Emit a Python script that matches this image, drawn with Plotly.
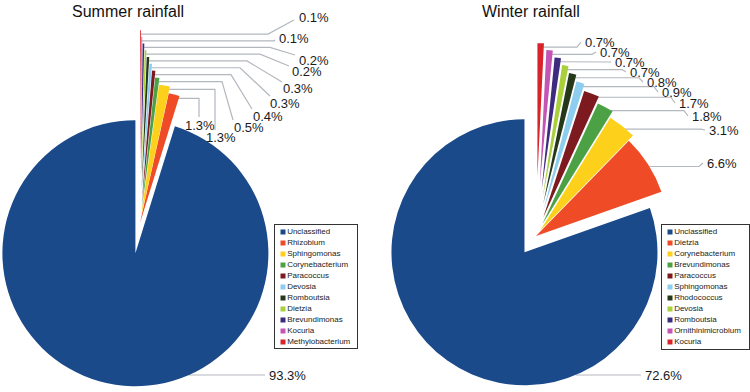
import math
import plotly.graph_objects as go

W, H = 750, 392

# ---------------- data ----------------
summer_labels = ["Unclassified", "Rhizobium", "Sphingomonas", "Corynebacterium", "Paracoccus",
                 "Devosia", "Romboutsia", "Dietzia", "Brevundimonas", "Kocuria", "Methylobacterium"]
summer_values = [93.3, 1.3, 1.3, 0.5, 0.4, 0.3, 0.3, 0.2, 0.2, 0.1, 0.1]

winter_labels = ["Unclassified", "Dietzia", "Corynebacterium", "Brevundimonas", "Paracoccus",
                 "Sphingomonas", "Rhodococcus", "Devosia", "Romboutsia", "Ornithinimicrobium", "Kocuria"]
winter_values = [72.6, 6.6, 3.1, 1.8, 1.7, 0.9, 0.8, 0.7, 0.7, 0.7, 0.7]

# explosion of each slice (fraction of radius)
summer_pull = [0.23, 0.0, 0.05, 0.10, 0.15, 0.20, 0.25, 0.30, 0.35, 0.40, 0.45]
winter_pull = [0.15, 0.0, 0.05, 0.10, 0.15, 0.20, 0.25, 0.30, 0.35, 0.40, 0.45]

# ---------------- styles / layout ----------------
PALETTE = ["#1B4A8A", "#EE4B26", "#FDD11B", "#4CA144", "#7D1A1F", "#8DCDF0",
           "#25381A", "#A9CF3B", "#3E2A7E", "#C455B5", "#D8232A"]
CLEAR = "rgba(0,0,0,0)"
FONT = "Arial, Liberation Sans, Helvetica, sans-serif"
LINE_COLOR = "#B3B8BE"

GEOM = {
    "summer": dict(ox=140, oy=223, r=133, title_x=128),
    "winter": dict(ox=536, oy=236, r=133, title_x=531),
}
# label placement (px): text left x, text middle y, elbow x, line end x, line end y
SUMMER_LABEL_POS = [
    (267, 375, None, 265, 375),
    (183, 125, 199, 199, 117),
    (204, 137, 215, 215, 130),
    (232, 127, 222, 233, 120),
    (251, 116, 231, 252, 109),
    (268, 103, 240, 270, 96),
    (281, 88, 247, 282, 82),
    (290, 71, 260, 289, 66),
    (297, 60, 270, 295, 55),
    (277, 38, 274, 275, 40),
    (297, 17, 268, 294, 20),
]
WINTER_TEXT_POS = [(643, 375), (705, 163), (707, 130), (690, 116), (677, 103), (660, 92),
                   (645, 82), (628, 72), (613, 62), (598, 52), (583, 42)]
WINTER_LABEL_POS = [(x, y, x - 6, x - 2, y) for (x, y) in WINTER_TEXT_POS]

LEGEND_BOX = {"summer": (275, 225, 357, 348), "winter": (662, 225, 749, 349)}

fig = go.Figure()
annotations = []
line_x, line_y = [], []


def add_pie(name, labels, values, pulls, label_pos):
    g = GEOM[name]
    ox, oy, r = g["ox"], g["oy"], g["r"]
    total = sum(values)
    k = 360.0 / total
    rotation = (total - values[0]) * k  # first slice ends at 12 o'clock going round
    cum = 0.0
    centers = []
    n = len(values)
    for i, v in enumerate(values):
        theta = math.radians(360 - (cum + v / 2) * k)  # clockwise from 12 o'clock
        cum += v
        d = pulls[i] * r
        cx = ox + d * math.sin(theta)
        cy = oy - d * math.cos(theta)
        centers.append((cx, cy, theta))
        cols = [CLEAR] * n
        cols[i] = PALETTE[i]
        fig.add_trace(go.Pie(
            values=values, labels=labels, sort=False, direction="counterclockwise",
            rotation=rotation, textinfo="none", hoverinfo="skip", showlegend=False,
            marker=dict(colors=cols, line=dict(width=0)),
            domain=dict(x=[max(0, (cx - r) / W), min(1, (cx + r) / W)],
                        y=[max(0, 1 - (cy + r) / H), min(1, 1 - (cy - r) / H)]),
        ))
    # leader lines + labels
    for i, v in enumerate(values):
        tx, ty, ex, ax, ay = label_pos[i]
        cx, cy, theta = centers[i]
        if i == 0:
            dy = ty - cy
            sx = cx + math.sqrt(max(r * r - dy * dy, 0))
            line_x.extend([sx, ax, None])
            line_y.extend([ty, ay, None])
        else:
            sx = cx + 0.97 * r * math.sin(theta)
            sy = cy - 0.97 * r * math.cos(theta)
            line_x.extend([sx, ex, ax, None])
            line_y.extend([sy, sy, ay, None])
        annotations.append(dict(
            x=tx, y=ty, xref="x", yref="y", text=f"{v:.1f}%", showarrow=False,
            xanchor="left", yanchor="middle",
            font=dict(family=FONT, size=13, color="#1a1a1a")))
    annotations.append(dict(
        x=g["title_x"], y=11, xref="x", yref="y", text=f"{name.capitalize()} rainfall",
        showarrow=False, xanchor="center", yanchor="middle",
        font=dict(family=FONT, size=16, color="#111")))


add_pie("summer", summer_labels, summer_values, summer_pull, SUMMER_LABEL_POS)
add_pie("winter", winter_labels, winter_values, winter_pull, WINTER_LABEL_POS)

fig.add_trace(go.Scatter(x=line_x, y=line_y, mode="lines", xaxis="x", yaxis="y",
                         line=dict(color=LINE_COLOR, width=1.2), hoverinfo="skip",
                         showlegend=False))

# manual legends
axis_common = dict(showticklabels=False, showgrid=False, zeroline=False, ticks="",
                   showline=True, mirror=True, linecolor="#333", linewidth=1, fixedrange=True)
for j, (name, labels) in enumerate([("summer", summer_labels), ("winter", winter_labels)]):
    x0, y0, x1, y1 = LEGEND_BOX[name]
    xa, ya = f"x{j + 2}", f"y{j + 2}"
    fig.add_trace(go.Scatter(
        x=[8] * len(labels), y=[7 + 11 * i for i in range(len(labels))],
        mode="markers+text", text=labels, textposition="middle right",
        textfont=dict(family=FONT, size=8, color="#222"),
        marker=dict(symbol="square", size=5, color=PALETTE[:len(labels)]),
        xaxis=xa, yaxis=ya, hoverinfo="skip", showlegend=False, cliponaxis=False))
    fig.layout[f"xaxis{j + 2}"] = dict(domain=[x0 / W, x1 / W], range=[0, x1 - x0],
                                       anchor=ya, **axis_common)
    fig.layout[f"yaxis{j + 2}"] = dict(domain=[1 - y1 / H, 1 - y0 / H], range=[y1 - y0, 0],
                                       anchor=xa, **axis_common)

fig.update_layout(
    width=W, height=H, margin=dict(l=0, r=0, t=0, b=0, pad=0),
    paper_bgcolor="white", plot_bgcolor="rgba(0,0,0,0)", showlegend=False,
    xaxis=dict(domain=[0, 1], range=[0, W], visible=False, fixedrange=True),
    yaxis=dict(domain=[0, 1], range=[H, 0], visible=False, fixedrange=True),
    annotations=annotations,
)

fig.write_html("out.html", config={"displayModeBar": False},
               post_script="document.body.style.margin='0px';")
